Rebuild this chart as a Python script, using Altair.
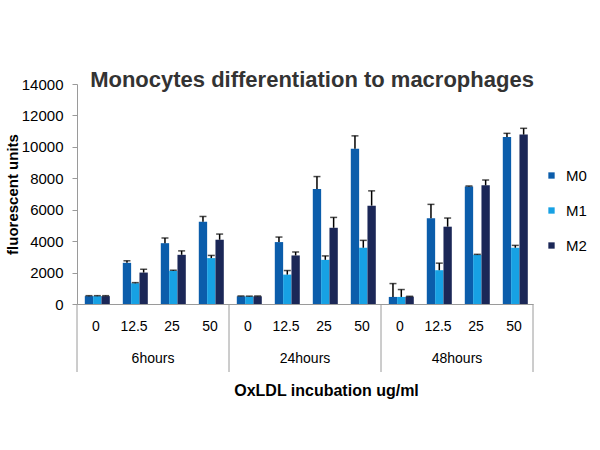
import altair as alt
import pandas as pd

times = ["6hours", "24hours", "48hours"]
concs = ["0", "12.5", "25", "50"]
series = ["M0", "M1", "M2"]

M0 = [500, 2620, 3870, 5230, 490, 3940, 7320, 9880, 450, 5450, 7470, 10630]
M0_err = [30, 130, 330, 340, 20, 320, 790, 820, 850, 890, 40, 230]
M1 = [500, 1320, 2110, 2920, 480, 1870, 2810, 3580, 450, 2150, 3130, 3580]
M1_err = [30, 40, 40, 170, 20, 260, 250, 470, 470, 450, 30, 150]
M2 = [500, 2000, 3130, 4090, 490, 3090, 4850, 6260, 470, 4920, 7550, 10780]
M2_err = [30, 210, 250, 360, 20, 220, 660, 940, 20, 550, 340, 400]

colors = ["#0B5DAB", "#17A1E4", "#1B2757"]
y_ticks = [0, 2000, 4000, 6000, 8000, 10000, 12000, 14000]

cats = [f"{t}|{c}" for t in times for c in concs]
vals = {"M0": (M0, M0_err), "M1": (M1, M1_err), "M2": (M2, M2_err)}

rows = []
for s in series:
    v, e = vals[s]
    for i, cat in enumerate(cats):
        t, c = cat.split("|")
        rows.append({"cat": cat, "time": t, "conc": c, "series": s,
                     "value": v[i], "hi": v[i] + e[i]})
df = pd.DataFrame(rows)

W, H = 456, 220

xscale = alt.Scale(domain=cats, paddingInner=0, paddingOuter=0)
xoff = alt.XOffset("series:N", scale=alt.Scale(domain=series, paddingInner=0, paddingOuter=0.78, align=0.6))
yscale = alt.Scale(domain=[0, 14000], nice=False)

x_axis = alt.Axis(title="OxLDL incubation ug/ml", labelExpr="split(datum.value, '|')[1]",
                  labelAngle=0, ticks=False, domainColor="#9A9A9A", labelPadding=15,
                  labelFont="Liberation Sans", labelFontSize=14, labelColor="#000000",
                  titleFont="Liberation Sans", titleFontSize=16, titleFontWeight="bold",
                  titleColor="#000000", titleX=249, titleY=86, titleAlign="center",
                  titleBaseline="middle")
y_axis = alt.Axis(title="fluorescent units", values=y_ticks, grid=False, format="d",
                  labelOverlap=False,
                  domainColor="#9A9A9A", tickColor="#9A9A9A", tickSize=5,
                  labelFont="Liberation Sans", labelFontSize=15, labelColor="#000000",
                  labelPadding=9, titleFont="Liberation Sans", titleFontSize=15,
                  titleFontWeight="bold", titleColor="#000000", titleX=-65, titleY=110,
                  titleAlign="center", titleBaseline="middle")

base = alt.Chart(df)

bars = base.mark_bar().encode(
    x=alt.X("cat:N", scale=xscale, axis=x_axis),
    xOffset=xoff,
    y=alt.Y("value:Q", scale=yscale, axis=y_axis),
    color=alt.Color("series:N", scale=alt.Scale(domain=series, range=colors),
                    legend=alt.Legend(title=None, orient="none", legendX=467, legendY=84,
                                      symbolType="square", symbolSize=40, symbolStrokeWidth=0,
                                      labelFont="Liberation Sans", labelFontSize=15,
                                      labelColor="#000000", rowPadding=19, labelOffset=7,
                                      padding=0)),
)

err = base.mark_rule(color="#000000", strokeWidth=1.5).encode(
    x=alt.X("cat:N", scale=xscale, axis=x_axis), xOffset=xoff,
    y=alt.Y("value:Q", scale=yscale, axis=y_axis), y2="hi:Q",
)
caps = base.mark_tick(color="#000000", thickness=1.5, size=7).encode(
    x=alt.X("cat:N", scale=xscale, axis=x_axis), xOffset=xoff,
    y=alt.Y("hi:Q", scale=yscale, axis=y_axis),
)

grp = pd.DataFrame({"time": times, "cat": [f"{t}|12.5" for t in times]})
grp_text = alt.Chart(grp).mark_text(font="Liberation Sans", fontSize=14, color="#000000",
                                    baseline="middle").encode(
    x=alt.X("cat:N", scale=xscale, bandPosition=1, axis=x_axis),
    y=alt.value(H + 55),
    text="time:N",
)

sep = pd.DataFrame({"cat": [f"{t}|0" for t in times]})
sep_rules = alt.Chart(sep).mark_rule(color="#9A9A9A", strokeWidth=1).encode(
    x=alt.X("cat:N", scale=xscale, bandPosition=0, axis=x_axis),
    y=alt.value(H), y2=alt.value(H + 68),
)
end = pd.DataFrame({"cat": [cats[-1]]})
end_rule = alt.Chart(end).mark_rule(color="#9A9A9A", strokeWidth=1).encode(
    x=alt.X("cat:N", scale=xscale, bandPosition=1, axis=x_axis),
    y=alt.value(H), y2=alt.value(H + 68),
)

chart = alt.layer(bars, err, caps, grp_text, sep_rules, end_rule).properties(
    width=W, height=H,
    title=alt.TitleParams("Monocytes differentiation to macrophages", font="Liberation Sans",
                          fontSize=22, fontWeight="bold", color="#333333", anchor="middle",
                          frame="group", offset=-9, dx=7, dy=6),
    autosize=alt.AutoSizeParams(type="none"),
    padding={"left": 77, "top": 84, "right": 67, "bottom": 146},
    background="white",
).configure_view(stroke=None)

chart.save("out.html", embed_options={"renderer": "svg", "actions": False})
